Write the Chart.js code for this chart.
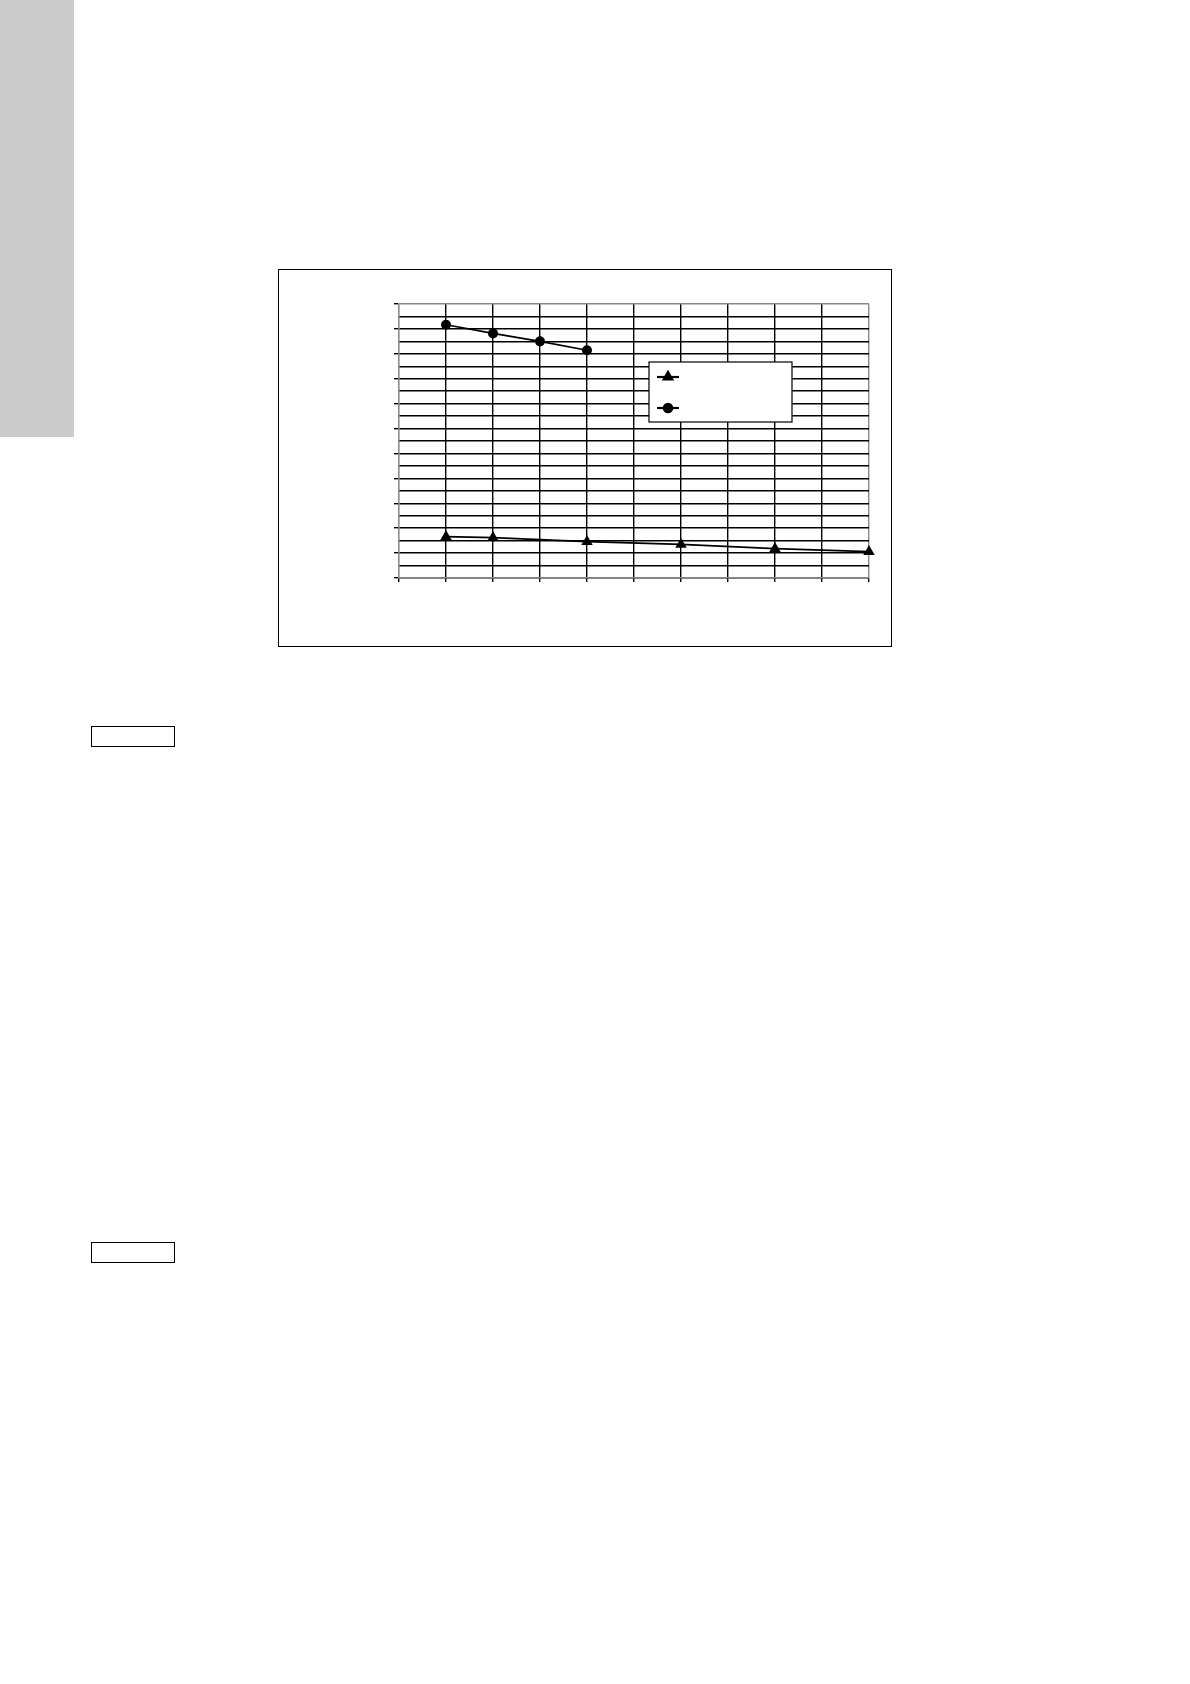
<!DOCTYPE html>
<html>
<head>
<meta charset="utf-8">
<script src="https://cdn.jsdelivr.net/npm/chart.js@4/dist/chart.umd.min.js"></script>
<style>
  html, body { margin: 0; padding: 0; background: #fff; }
  body { width: 1190px; height: 1684px; position: relative; overflow: hidden; }
  #sidebar { position: absolute; left: 0; top: 0; width: 74px; height: 437px; background: #cccccc; }
  .tag { position: absolute; left: 91px; width: 82px; height: 19px; border: 1.5px solid #000; }
  #frame { position: absolute; left: 278px; top: 269px; width: 612px; height: 376px; border: 1.5px solid #000; }
  #wrap { position: absolute; left: 278px; top: 269px; width: 614px; height: 378px; }
</style>
</head>
<body>
<div id="sidebar"></div>
<div id="frame"></div>
<div id="wrap"><canvas id="chart1"></canvas></div>
<div class="tag" style="top:726px"></div>
<div class="tag" style="top:1242px"></div>
<script>
// data (no axis labels in the original)
var triX = [1, 2, 4, 6, 8, 10];
var triY = [1.66, 1.62, 1.46, 1.35, 1.18, 1.06];
var dotX = [1, 2, 3, 4];
var dotY = [10.17, 9.82, 9.5, 9.14];
var seriesNames = ['', ''];

function pts(xs, ys) {
  return xs.map(function(x, i) { return { x: x, y: ys[i] }; });
}

// legend box drawn inside the plot, like the original
var boxLegend = {
  id: 'boxLegend',
  afterDraw: function(chart) {
    var c = chart.ctx;
    var x0 = 371, y0 = 93, w = 143, h = 60;
    c.save();
    c.fillStyle = '#fff';
    c.fillRect(x0, y0, w, h);
    c.strokeStyle = '#000';
    c.lineWidth = 1.2;
    c.strokeRect(x0, y0, w, h);
    chart.data.datasets.forEach(function(ds, i) {
      var cy = y0 + 15 + i * 31;
      c.beginPath();
      c.moveTo(x0 + 8, cy);
      c.lineTo(x0 + 30, cy);
      c.lineWidth = 2.2;
      c.strokeStyle = '#000';
      c.stroke();
      Chart.helpers.drawPoint(c, { pointStyle: ds.pointStyle, radius: ds.pointRadius, borderWidth: 1 }, x0 + 19, cy);
      c.fillStyle = '#000';
      c.fill();
    });
    c.restore();
  }
};

var ctx = document.getElementById('chart1').getContext('2d');
var myChart = new Chart(ctx, {
  type: 'scatter',
  data: {
    datasets: [{
      label: seriesNames[0],
      data: pts(triX, triY),
      showLine: true,
      clip: false,
      borderColor: '#000',
      backgroundColor: '#000',
      borderWidth: 1.6,
      pointStyle: 'triangle',
      pointRadius: 5,
      pointHoverRadius: 5
    }, {
      label: seriesNames[1],
      data: pts(dotX, dotY),
      showLine: true,
      clip: false,
      borderColor: '#000',
      backgroundColor: '#000',
      borderWidth: 1.6,
      pointStyle: 'circle',
      pointRadius: 4.2,
      pointHoverRadius: 4.2
    }]
  },
  options: {
    responsive: true,
    maintainAspectRatio: false,
    animation: false,
    layout: { padding: { left: 116, top: 35, right: 23, bottom: 65 } },
    plugins: {
      legend: { display: false },
      tooltip: { enabled: false }
    },
    scales: {
      x: {
        type: 'linear',
        min: 0,
        max: 10,
        ticks: { stepSize: 1, display: false },
        border: { color: '#888', width: 1.3 },
        grid: {
          lineWidth: 1.4,
          tickLength: 4,
          tickColor: '#000',
          color: function(c) {
            return (c.tick && (c.tick.value === 0 || c.tick.value === 10)) ? '#888' : '#000';
          }
        },
        afterFit: function(s) { s.height = 4; }
      },
      y: {
        min: 0,
        max: 11,
        ticks: { stepSize: 0.5, display: false },
        border: { color: '#888', width: 1.3 },
        grid: {
          lineWidth: 1.4,
          tickLength: 5,
          tickColor: function(c) {
            return (c.tick && Number.isInteger(c.tick.value)) ? '#000' : 'rgba(0,0,0,0)';
          },
          color: function(c) {
            return (c.tick && c.tick.value === 11) ? '#888' : '#000';
          }
        },
        afterFit: function(s) { s.width = 5; }
      }
    }
  },
  plugins: [boxLegend]
});
</script>
</body>
</html>
